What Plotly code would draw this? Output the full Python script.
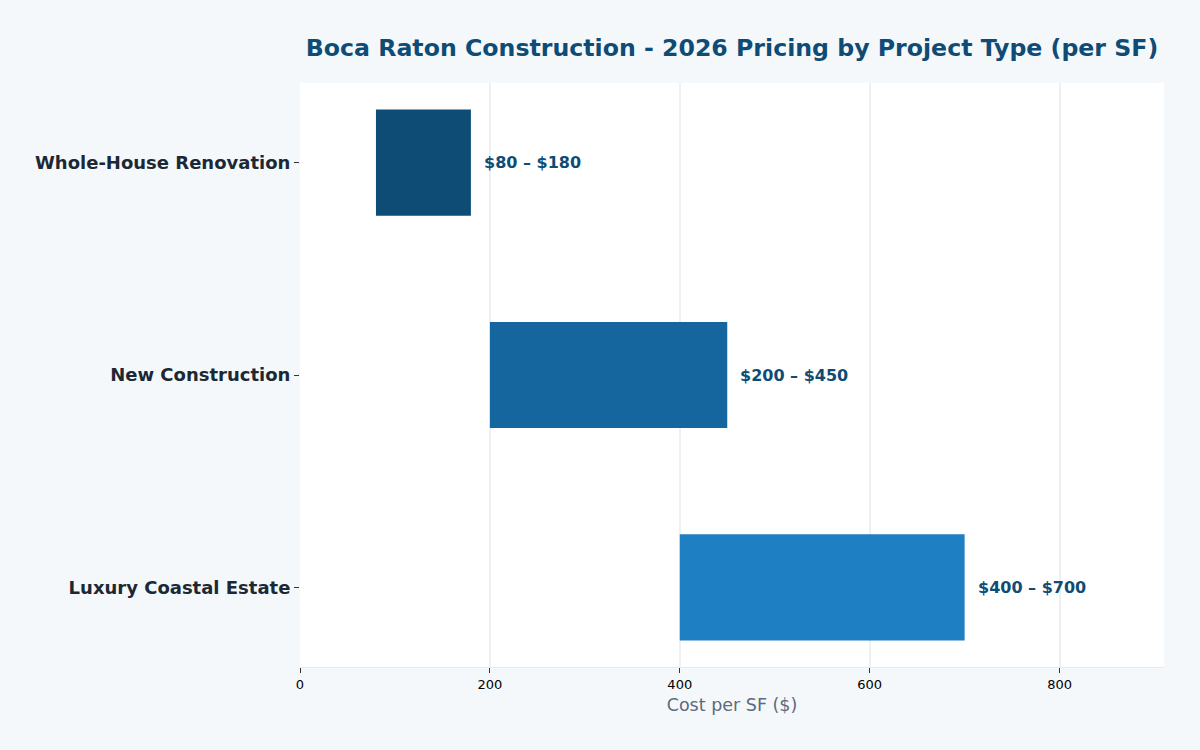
import plotly.graph_objects as go

projects = ["Whole-House Renovation", "New Construction", "Luxury Coastal Estate"]
low = [80, 200, 400]
high = [180, 450, 700]
colors = ["#0f4c75", "#15659e", "#1e7fc2"]
labels = [f"${l} \u2013 ${h}" for l, h in zip(low, high)]

fig = go.Figure()
fig.add_trace(go.Bar(
    y=projects,
    x=[h - l for l, h in zip(low, high)],
    base=low,
    orientation="h",
    marker=dict(color=colors, line=dict(width=0)),
    width=0.5,
    hoverinfo="skip",
))

for p, h, t in zip(projects, high, labels):
    fig.add_annotation(x=h, y=p, text=f"<b>{t}</b>", showarrow=False,
                       xanchor="left", xshift=11,
                       font=dict(family="DejaVu Sans", size=16, color="#0f4c75"))

fig.update_layout(
    width=1200, height=750,
    margin=dict(l=300, r=36, t=83, b=83),
    paper_bgcolor="#f4f8fb",
    plot_bgcolor="#ffffff",
    showlegend=False,
    font=dict(family="DejaVu Sans", color="#000000"),
    title=dict(text="<b>Boca Raton Construction - 2026 Pricing by Project Type (per SF)</b>",
               x=0.5, xref="paper", xanchor="center", y=0.937, yanchor="middle",
               font=dict(family="DejaVu Sans", size=23.65, color="#0f4c75")),
    xaxis=dict(range=[0, 910], tickvals=[0, 200, 400, 600, 800],
               showgrid=True, gridcolor="#eef1f4", gridwidth=1.5,
               zeroline=False, showline=True, linecolor="#e6e9ee", linewidth=1,
               ticks="outside", ticklen=5, tickcolor="#333333",
               tickfont=dict(size=13, color="#000000"),
               title=dict(text="Cost per SF ($)", font=dict(size=17.5, color="#5b6b7d"), standoff=8)),
    yaxis=dict(categoryorder="array", categoryarray=projects[::-1],
               range=[-0.375, 2.375],
               showgrid=False, zeroline=False, showline=False,
               ticks="outside", ticklen=5, tickcolor="#333333",
               tickfont=dict(size=18, color="#1c2833", family="DejaVu Sans"),
               tickprefix="<b>", ticksuffix="</b>"),
)

fig.write_html("out.html")
